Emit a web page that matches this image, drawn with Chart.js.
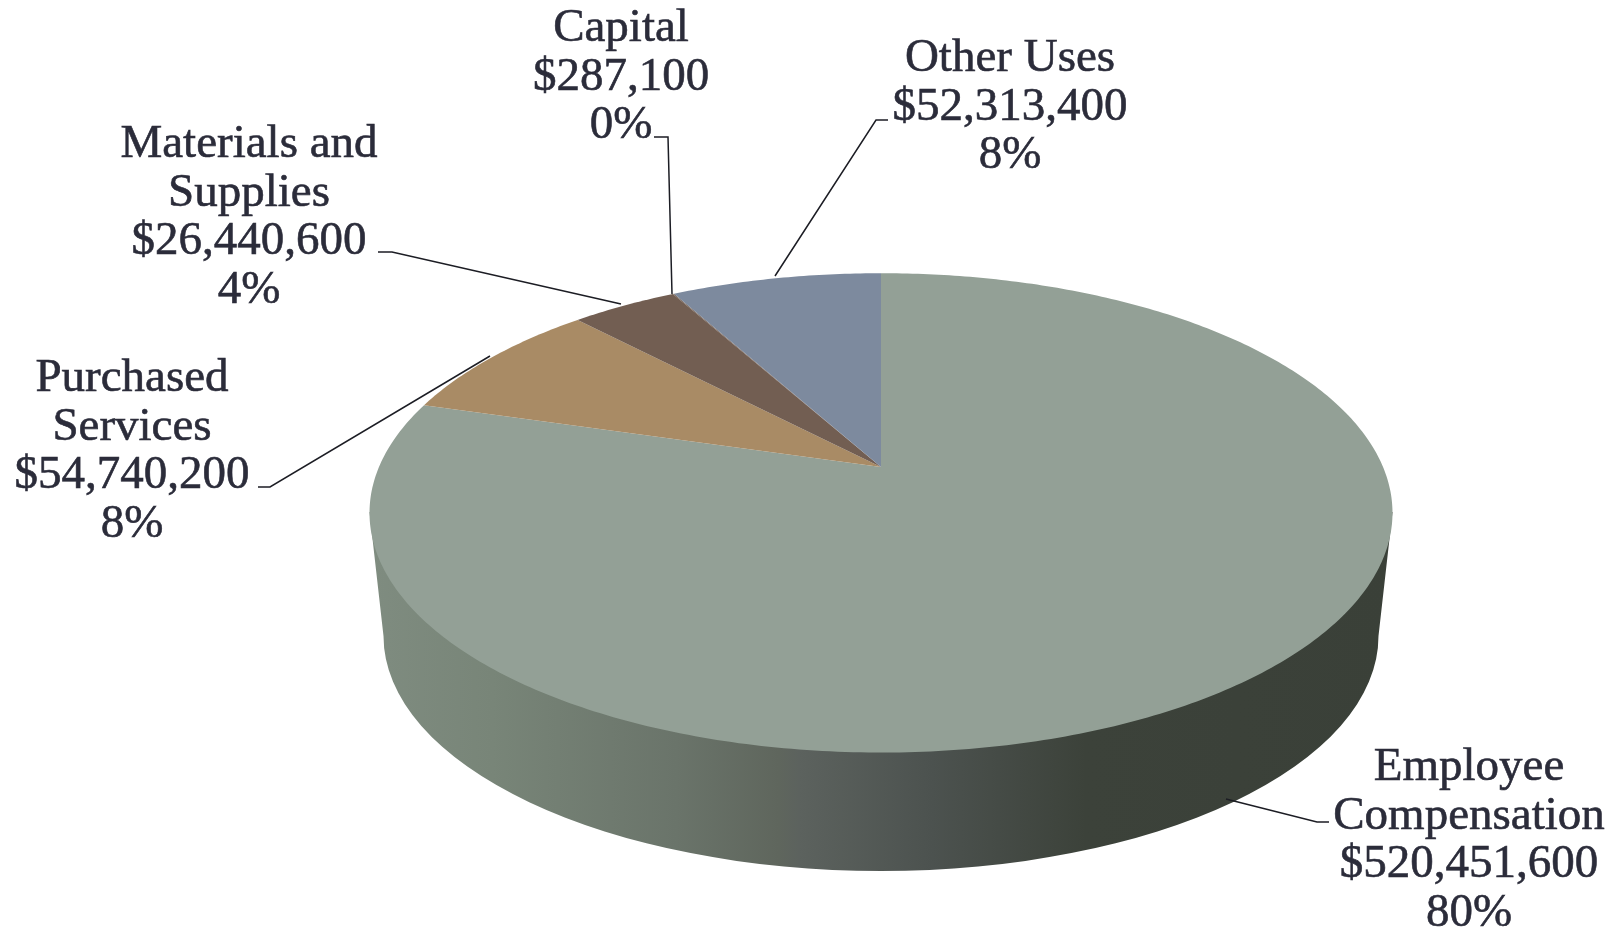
<!DOCTYPE html>
<html>
<head>
<meta charset="utf-8">
<title>Uses of funds</title>
<script src="https://cdn.jsdelivr.net/npm/chart.js@4/dist/chart.umd.js"></script>
<style>
  html, body { margin: 0; padding: 0; background: #fff; }
  #wrap { width: 1616px; height: 930px; }
</style>
</head>
<body>
<div id="wrap"><canvas id="pie" width="1616" height="930"></canvas></div>
<script>
const categories = ['Employee Compensation', 'Purchased Services', 'Materials and Supplies', 'Capital', 'Other Uses']
const amounts = [520451600, 54740200, 26440600, 287100, 52313400]
const sliceColors = ['#93a096', '#a98b65', '#725e52', '#725e52', '#7d8a9e']

// how each label wraps, same order as categories
const labelNames = [['Employee', 'Compensation'], ['Purchased', 'Services'], ['Materials and', 'Supplies'], ['Capital'], ['Other Uses']]
const labelCenters = [1469, 132, 249, 621, 1010]
const labelFirstLines = [780, 391, 157, 41, 71]

const leaderLines = [
  [[1329, 822], [1317, 822], [1226, 799]],
  [[258, 487], [270, 487], [490, 356]],
  [[378, 252], [392, 252], [621, 304]],
  [[654, 137], [668, 137], [672, 294]],
  [[888, 120], [876, 120], [775, 276]]
]

// perspective of the tilted disc, relative to the arc radius
const tilt = 0.1914
const stretchX = 1.0843
const stretchY = 0.4987

function project(arc, angle) {
  const u = Math.cos(angle)
  const v = -Math.sin(angle)
  const w = 1 + tilt * v
  return [arc.x + stretchX * arc.outerRadius * u / w, arc.y - stretchY * arc.outerRadius * v / w]
}

// arcs keep the angles chart.js worked out, only the outline goes through the tilt
Chart.ArcElement.prototype.draw = function (ctx) {
  const { startAngle, endAngle } = this.getProps(['startAngle', 'endAngle'])
  const steps = Math.ceil((endAngle - startAngle) * 80)
  ctx.beginPath()
  ctx.moveTo(this.x, this.y)
  for (let i = 0; i <= steps; i++) {
    const p = project(this, startAngle + (endAngle - startAngle) * i / steps)
    ctx.lineTo(p[0], p[1])
  }
  ctx.closePath()
  ctx.fillStyle = this.options.backgroundColor
  ctx.fill()
}

const pieWall = {
  id: 'pieWall',
  beforeDatasetsDraw(chart) {
    const ctx = chart.ctx
    const arc = chart.getDatasetMeta(0).data[0]
    const R = arc.outerRadius
    const topY = arc.y + 0.0972 * R
    const topX = 1.1048 * R
    const rimY = arc.y + 0.3650 * R
    const rimX = 1.0745 * R
    const rimH = 0.5076 * R

    const grad = ctx.createLinearGradient(arc.x - topX, 0, arc.x + topX, 0)
    grad.addColorStop(0, '#7f8c80')
    grad.addColorStop(0.12, '#788578')
    grad.addColorStop(0.3, '#6a746a')
    grad.addColorStop(0.4, '#5f665d')
    grad.addColorStop(0.42, '#5c625e')
    grad.addColorStop(0.55, '#4c524f')
    grad.addColorStop(0.7, '#3c423a')
    grad.addColorStop(1, '#3a4038')

    ctx.save()
    ctx.beginPath()
    ctx.moveTo(arc.x - topX, topY)
    ctx.lineTo(arc.x - rimX, rimY)
    ctx.ellipse(arc.x, rimY, rimX, rimH, 0, Math.PI, 0, true)
    ctx.lineTo(arc.x + topX, topY)
    ctx.closePath()
    ctx.fillStyle = grad
    ctx.fill()
    ctx.restore()
  }
}

const pieLabels = {
  id: 'pieLabels',
  afterDatasetsDraw(chart) {
    const ctx = chart.ctx
    const total = amounts.reduce((a, b) => a + b, 0)

    ctx.save()
    ctx.strokeStyle = '#1c1d24'
    ctx.lineWidth = 1.5
    leaderLines.forEach((pts) => {
      ctx.beginPath()
      pts.forEach((p, i) => (i ? ctx.lineTo(p[0], p[1]) : ctx.moveTo(p[0], p[1])))
      ctx.stroke()
    })

    ctx.fillStyle = '#2b2c3a'
    ctx.strokeStyle = '#2b2c3a'
    ctx.lineWidth = 0.6
    ctx.font = '47px "Liberation Serif"'
    ctx.textAlign = 'center'
    ctx.textBaseline = 'alphabetic'
    categories.forEach((name, i) => {
      const lines = labelNames[i].concat([
        '$' + amounts[i].toLocaleString('en-US'),
        Math.round(amounts[i] / total * 100) + '%'
      ])
      lines.forEach((line, j) => {
        const y = labelFirstLines[i] + j * 48.7
        ctx.fillText(line, labelCenters[i], y)
        ctx.strokeText(line, labelCenters[i], y)
      })
    })
    ctx.restore()
  }
}

new Chart(document.getElementById('pie'), {
  type: 'pie',
  data: {
    labels: categories,
    datasets: [{ data: amounts, backgroundColor: sliceColors, borderWidth: 0 }]
  },
  options: {
    responsive: false,
    animation: false,
    layout: { padding: { left: 146, top: 4, right: 0, bottom: 0 } },
    plugins: { legend: { display: false }, tooltip: { enabled: false } }
  },
  plugins: [pieWall, pieLabels]
})
</script>
</body>
</html>
